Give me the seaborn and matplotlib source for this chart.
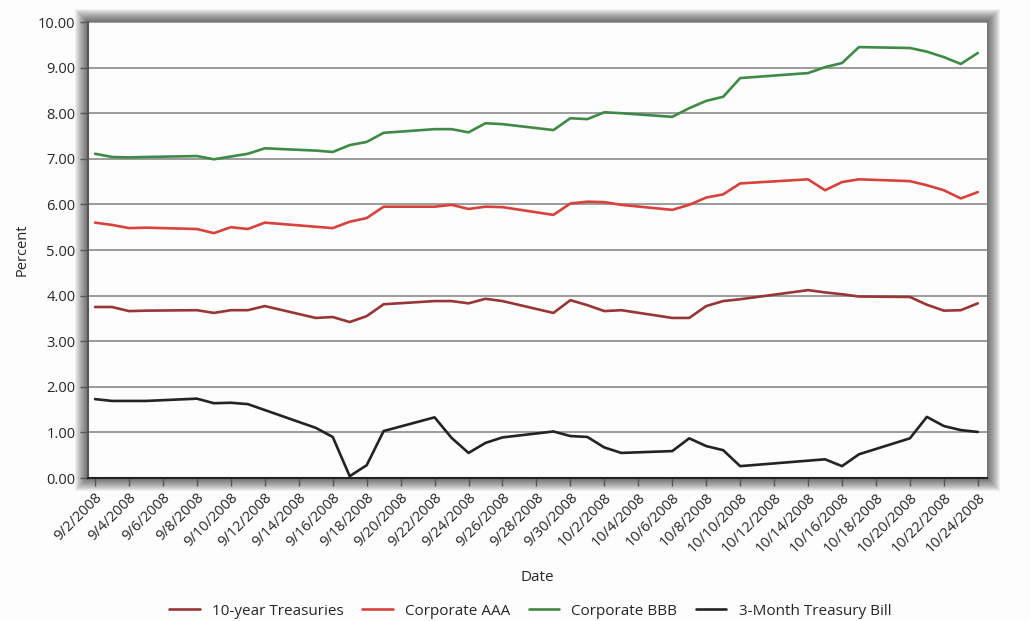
import numpy as np
import pandas as pd
import matplotlib.pyplot as plt
import matplotlib.patches as mpatches
import seaborn as sns

# Daily yields, Sept-Oct 2008
dates = ['2008-09-02', '2008-09-03', '2008-09-04', '2008-09-05', '2008-09-08', '2008-09-09',
         '2008-09-10', '2008-09-11', '2008-09-12', '2008-09-15', '2008-09-16', '2008-09-17',
         '2008-09-18', '2008-09-19', '2008-09-22', '2008-09-23', '2008-09-24', '2008-09-25',
         '2008-09-26', '2008-09-29', '2008-09-30', '2008-10-01', '2008-10-02', '2008-10-03',
         '2008-10-06', '2008-10-07', '2008-10-08', '2008-10-09', '2008-10-10', '2008-10-14',
         '2008-10-15', '2008-10-16', '2008-10-17', '2008-10-20', '2008-10-21', '2008-10-22',
         '2008-10-23', '2008-10-24']
tsy_10yr = [3.75, 3.75, 3.66, 3.67, 3.68, 3.62, 3.68, 3.68, 3.77, 3.51, 3.53, 3.42, 3.55,
            3.81, 3.88, 3.88, 3.83, 3.93, 3.88, 3.62, 3.90, 3.79, 3.66, 3.68, 3.51, 3.51,
            3.77, 3.88, 3.92, 4.12, 4.07, 4.03, 3.98, 3.97, 3.80, 3.67, 3.68, 3.83]
corp_aaa = [5.60, 5.55, 5.48, 5.49, 5.46, 5.37, 5.50, 5.46, 5.60, 5.51, 5.48, 5.62, 5.70,
            5.95, 5.95, 5.99, 5.90, 5.95, 5.94, 5.77, 6.02, 6.06, 6.05, 5.99, 5.88, 5.99,
            6.15, 6.22, 6.46, 6.55, 6.31, 6.49, 6.55, 6.51, 6.42, 6.31, 6.13, 6.27]
corp_bbb = [7.11, 7.04, 7.03, 7.04, 7.06, 6.99, 7.05, 7.11, 7.23, 7.18, 7.15, 7.30, 7.37,
            7.57, 7.65, 7.65, 7.58, 7.78, 7.76, 7.63, 7.89, 7.87, 8.02, 8.00, 7.92, 8.11,
            8.27, 8.36, 8.77, 8.88, 9.01, 9.10, 9.45, 9.43, 9.35, 9.23, 9.08, 9.32]
tbill_3m = [1.73, 1.69, 1.69, 1.69, 1.74, 1.64, 1.65, 1.62, 1.49, 1.10, 0.90, 0.04, 0.28,
            1.03, 1.33, 0.88, 0.55, 0.77, 0.89, 1.02, 0.92, 0.90, 0.67, 0.55, 0.59, 0.87,
            0.70, 0.61, 0.26, 0.38, 0.41, 0.26, 0.52, 0.87, 1.34, 1.14, 1.05, 1.01]

series_names = ['10-year Treasuries', 'Corporate AAA', 'Corporate BBB', '3-Month Treasury Bill']
colors = ['#9a3535', '#d8413c', '#3f8a45', '#232323']

df = pd.DataFrame({
    'Date': pd.to_datetime(dates),
    series_names[0]: tsy_10yr,
    series_names[1]: corp_aaa,
    series_names[2]: corp_bbb,
    series_names[3]: tbill_3m,
})
long_df = df.melt(id_vars='Date', var_name='Series', value_name='Percent')

sns.set_theme(style="white")
plt.rcParams['font.family'] = ['Open Sans', 'DejaVu Sans']

W, H = 1030, 621
fig = plt.figure(figsize=(W / 100, H / 100), dpi=100, facecolor='#fdfdfd')

# plot area in pixels
x0, y0, x1, y1 = 88, 22, 987, 478
ax = fig.add_axes([x0 / W, 1 - y1 / H, (x1 - x0) / W, (y1 - y0) / H])
ax.set_facecolor('#fdfdfd')
ax.set_zorder(2)

# soft drop shadow around the plot area
for k in range(13, 0, -1):
    fig.patches.append(mpatches.Rectangle(
        ((x0 - k) / W, 1 - (y1 + k) / H),
        (x1 - x0 + 2 * k) / W, (y1 - y0 + 2 * k) / H,
        transform=fig.transFigure, facecolor='black', edgecolor='none',
        alpha=0.055, zorder=0))

sns.lineplot(data=long_df, x='Date', y='Percent', hue='Series', hue_order=series_names,
             palette=dict(zip(series_names, colors)), linewidth=1.9, ax=ax)

start = pd.Timestamp('2008-09-02')
end = pd.Timestamp('2008-10-24')
ax.set_xlim(start - pd.Timedelta(hours=10), end + pd.Timedelta(hours=13))
ax.set_ylim(0, 10)

ticks = pd.date_range(start, end, freq='2D')
ax.set_xticks(ticks)
ax.set_xticklabels([f"{d.month}/{d.day}/{d.year}" for d in ticks],
                   rotation=45, ha='right', rotation_mode='anchor', fontsize=10.5)
ax.set_yticks(np.arange(0, 11, 1))
ax.set_yticklabels([f"{v:.2f}" for v in np.arange(0, 11, 1)], fontsize=10.5)

ax.grid(axis='y', color='#8c8c8c', linewidth=1.2)
ax.tick_params(axis='both', which='major', direction='out', length=6, width=1,
               color='#555555', bottom=True, left=True, pad=3)
for side in ['top', 'right']:
    ax.spines[side].set_visible(False)
ax.spines['left'].set_color('#555555')
ax.spines['left'].set_linewidth(1.5)
ax.spines['bottom'].set_color('#222222')
ax.spines['bottom'].set_linewidth(1.5)

ax.set_xlabel('Date', fontsize=11, labelpad=10)
ax.set_ylabel('Percent', fontsize=10.5, labelpad=6)

sns.move_legend(ax, 'center', bbox_to_anchor=(0.492, -0.292), ncol=4, frameon=False,
                title=None, fontsize=11, handlelength=2.0, handletextpad=0.8,
                columnspacing=1.2)

fig.savefig('out.png', dpi=100, facecolor=fig.get_facecolor())
